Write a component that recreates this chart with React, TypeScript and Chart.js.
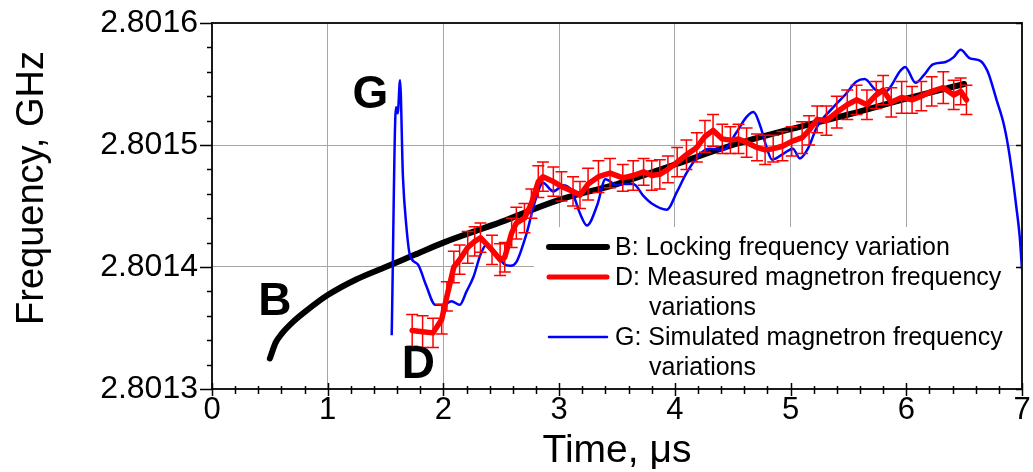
import React, { useEffect, useRef } from "react";
import { Chart, registerables } from "chart.js";

Chart.register(...registerables);

const FONT = "'Liberation Sans', Arial, Helvetica, sans-serif";

const X_TICKS = [0, 1, 2, 3, 4, 5, 6, 7];
const Y_TICKS = [2.8013, 2.8014, 2.8015, 2.8016];
const X_TITLE = "Time, \u03bcs";
const Y_TITLE = "Frequency, GHz";

// B: locking frequency variation
const B_TIME = [0.5, 0.55, 0.6, 0.7, 0.8, 1.0, 1.25, 1.5, 1.75, 2.0, 2.5, 3.0, 3.5, 4.0, 4.5, 5.0, 5.5, 6.0, 6.5];
const B_FREQ = [
  2.801325, 2.801338, 2.801345, 2.801355, 2.801363, 2.801377, 2.80139, 2.8014, 2.80141, 2.80142,
  2.801437, 2.801455, 2.801468, 2.801484, 2.8015, 2.801513, 2.801525, 2.801538, 2.80155,
];

// D: measured magnetron frequency variations (with error bars)
const D_TIME = [
  1.73, 1.82, 1.91, 1.985, 2.03, 2.09, 2.14, 2.21, 2.27, 2.32, 2.42, 2.49, 2.53, 2.59, 2.63, 2.7, 2.76,
  2.82, 2.86, 2.95, 3.02, 3.12, 3.18, 3.25, 3.34, 3.44, 3.55, 3.64, 3.73, 3.8, 3.87, 3.94, 4.02, 4.1,
  4.19, 4.26, 4.33, 4.41, 4.48, 4.55, 4.62, 4.71, 4.78, 4.85, 4.93, 5.01, 5.1, 5.16, 5.23, 5.31, 5.4,
  5.49, 5.57, 5.66, 5.74, 5.8, 5.87, 5.96, 6.05, 6.13, 6.22, 6.32, 6.41, 6.47, 6.52,
];
const D_FREQ = [
  2.801348, 2.801347, 2.801346, 2.801357, 2.801376, 2.8014, 2.801406, 2.801416, 2.801421, 2.801424,
  2.801414, 2.801406, 2.801408, 2.801428, 2.801436, 2.80144, 2.801452, 2.80147, 2.801474, 2.80147,
  2.801466, 2.801462, 2.801459, 2.801468, 2.801474, 2.801477, 2.801473, 2.801475, 2.801478, 2.801475,
  2.801476, 2.80148, 2.801486, 2.801492, 2.801498, 2.801507, 2.801512, 2.801505, 2.801504, 2.801505,
  2.801502, 2.801498, 2.801496, 2.801497, 2.801499, 2.801503, 2.801506, 2.801512, 2.801521, 2.80152,
  2.801527, 2.801533, 2.801537, 2.801533, 2.801541, 2.801545, 2.801535, 2.801539, 2.801537, 2.80154,
  2.801544, 2.801547, 2.801541, 2.801544, 2.801537,
];
const D_ERR = [
  1.3e-5, 1.3e-5, 1.2e-5, 1.2e-5, 1.2e-5, 1.3e-5, 1.2e-5, 1.3e-5, 1.2e-5, 1.2e-5, 1.2e-5, 1.3e-5,
  1.2e-5, 1.2e-5, 1.3e-5, 1.2e-5, 1.2e-5, 1.3e-5, 1.2e-5, 1.2e-5, 1.2e-5, 1.2e-5, 1.1e-5, 1.3e-5,
  1.3e-5, 1.2e-5, 1.1e-5, 1.2e-5, 1.1e-5, 1.2e-5, 1.2e-5, 1.1e-5, 1.2e-5, 1.2e-5, 1.2e-5, 1.3e-5,
  1.3e-5, 1.2e-5, 1.1e-5, 1.2e-5, 1.2e-5, 1.1e-5, 1.2e-5, 1.1e-5, 1.2e-5, 1.2e-5, 1.3e-5, 1.2e-5,
  1.1e-5, 1.2e-5, 1.3e-5, 1.2e-5, 1.2e-5, 1.2e-5, 1.1e-5, 1.2e-5, 1.2e-5, 1.3e-5, 1.1e-5, 1.2e-5,
  1.2e-5, 1.3e-5, 1.2e-5, 1.1e-5, 1.2e-5,
];

// G: simulated magnetron frequency variations
const G_TIME = [
  1.553, 1.59, 1.605, 1.625, 1.65, 1.68, 1.71, 1.78, 1.85, 1.93, 2.0, 2.07, 2.14, 2.2, 2.26, 2.32, 2.37,
  2.46, 2.53, 2.58, 2.63, 2.72, 2.78, 2.835, 2.86, 2.95, 3.04, 3.11, 3.18, 3.24, 3.33, 3.4, 3.5, 3.55,
  3.64, 3.73, 3.8, 3.93, 4.02, 4.1, 4.22, 4.3, 4.42, 4.53, 4.62, 4.68, 4.74, 4.79, 4.84, 4.94, 5.02,
  5.08, 5.15, 5.23, 5.37, 5.47, 5.57, 5.64, 5.74, 5.82, 5.95, 5.99, 6.08, 6.15, 6.23, 6.34, 6.41, 6.47,
  6.55, 6.64, 6.7, 6.72, 6.78, 6.84, 6.88, 6.91, 6.95, 6.98, 7.0,
];
const G_FREQ = [
  2.801344, 2.801531, 2.801526, 2.801553, 2.801474, 2.801433, 2.80141, 2.801402, 2.801385, 2.801369,
  2.801369, 2.801372, 2.801369, 2.80138, 2.801392, 2.80141, 2.801418, 2.801411, 2.801402, 2.801401,
  2.801404, 2.801428, 2.80145, 2.801466, 2.801469, 2.801462, 2.801467, 2.801462, 2.801444, 2.801434,
  2.801451, 2.801472, 2.801467, 2.801468, 2.801468, 2.801458, 2.801452, 2.801447, 2.801462, 2.801477,
  2.801493, 2.801497, 2.801496, 2.80151, 2.801523, 2.801527, 2.801515, 2.801499, 2.801488, 2.801493,
  2.801497, 2.801489, 2.801497, 2.801515, 2.801531, 2.801541, 2.801552, 2.801554, 2.801545, 2.801544,
  2.801561, 2.801564, 2.801551, 2.801557, 2.801566, 2.801568, 2.801572, 2.801578, 2.801571, 2.801569,
  2.801561, 2.801556, 2.801537, 2.801518, 2.801499, 2.80148, 2.80145, 2.801425, 2.801398,
];

const LEGEND_ITEMS = [
  { color: "#000000", width: 6, lines: ["B: Locking frequency variation"] },
  { color: "#ff0000", width: 5, lines: ["D: Measured magnetron frequency", "variations"] },
  { color: "#0000ff", width: 2.5, lines: ["G: Simulated magnetron frequency", "variations"] },
];

const CURVE_LABELS = [
  { text: "G", x: 1.215, y: 2.80153 },
  { text: "B", x: 0.4, y: 2.801361 },
  { text: "D", x: 1.64, y: 2.801309 },
];

const toPoints = (xs: number[], ys: number[]) => xs.map((x, i) => ({ x, y: ys[i] }));

const decorPlugin = {
  id: "decor",
  beforeDatasetsDraw(chart: any) {
    const { ctx, chartArea } = chart;
    const { left, top, right, bottom } = chartArea;
    // legend box (white, covers grid)
    const bx = left + 322;
    const by = top + 204;
    ctx.save();
    ctx.fillStyle = "#ffffff";
    ctx.fillRect(bx, by, right - bx - 1, bottom - by - 1);
    ctx.font = `25px ${FONT}`;
    ctx.textBaseline = "middle";
    ctx.fillStyle = "#000";
    let rowY = by + 20;
    LEGEND_ITEMS.forEach((item) => {
      ctx.strokeStyle = item.color;
      ctx.lineWidth = item.width;
      ctx.lineCap = "round";
      ctx.beginPath();
      ctx.moveTo(bx + 15, rowY);
      ctx.lineTo(bx + 73, rowY);
      ctx.stroke();
      item.lines.forEach((line, li) => {
        ctx.fillText(line, li === 0 ? bx + 81 : bx + 115, rowY + 1);
        rowY += 30;
      });
    });
    ctx.restore();
  },
  afterDatasetsDraw(chart: any) {
    const { ctx } = chart;
    const xs = chart.scales.x;
    const ys = chart.scales.y;
    ctx.save();
    ctx.beginPath();
    ctx.rect(chart.chartArea.left, chart.chartArea.top, chart.chartArea.width, chart.chartArea.height);
    ctx.clip();
    ctx.strokeStyle = "#ff0000";
    ctx.lineWidth = 1.5;
    D_TIME.forEach((t, i) => {
      const px = xs.getPixelForValue(t);
      const y1 = ys.getPixelForValue(D_FREQ[i] + D_ERR[i]);
      const y2 = ys.getPixelForValue(D_FREQ[i] - D_ERR[i]);
      ctx.beginPath();
      ctx.moveTo(px, y1);
      ctx.lineTo(px, y2);
      ctx.moveTo(px - 6, y1);
      ctx.lineTo(px + 6, y1);
      ctx.moveTo(px - 6, y2);
      ctx.lineTo(px + 6, y2);
      ctx.stroke();
    });
    ctx.restore();
  },
  afterDraw(chart: any) {
    const { ctx, chartArea } = chart;
    const { left, top, right, bottom } = chartArea;
    const xs = chart.scales.x;
    const ys = chart.scales.y;
    ctx.save();
    // frame
    ctx.strokeStyle = "#1a1a1a";
    ctx.lineWidth = 2;
    ctx.strokeRect(left, top, right - left, bottom - top);
    ctx.lineWidth = 1.5;
    ctx.strokeStyle = "#000";
    // y ticks (major + minor), outward
    const yMin = Y_TICKS[0];
    const yMax = Y_TICKS[Y_TICKS.length - 1];
    const yStep = (Y_TICKS[1] - Y_TICKS[0]) / 5;
    for (let k = 0; k <= Math.round((yMax - yMin) / yStep); k++) {
      const py = Math.round(ys.getPixelForValue(yMin + k * yStep)) + 0.5;
      const major = k % 5 === 0;
      ctx.beginPath();
      ctx.moveTo(left - (major ? 12 : 5), py);
      ctx.lineTo(left, py);
      if (major) {
        ctx.moveTo(right - 6, py);
        ctx.lineTo(right, py);
      }
      ctx.stroke();
    }
    // x ticks
    const xMin = X_TICKS[0];
    const xMax = X_TICKS[X_TICKS.length - 1];
    const xStep = (X_TICKS[1] - X_TICKS[0]) / 5;
    for (let k = 0; k <= Math.round((xMax - xMin) / xStep); k++) {
      const px = Math.round(xs.getPixelForValue(xMin + k * xStep)) + 0.5;
      const major = k % 5 === 0;
      ctx.beginPath();
      ctx.moveTo(px, bottom - (major ? 6 : 3));
      ctx.lineTo(px, bottom + (major ? 7 : 5));
      ctx.stroke();
    }
    // y-axis title
    ctx.fillStyle = "#000";
    ctx.font = `38px ${FONT}`;
    ctx.textAlign = "center";
    ctx.textBaseline = "middle";
    ctx.translate(33, top + 165);
    ctx.rotate(-Math.PI / 2);
    ctx.fillText(Y_TITLE, 0, 0);
    ctx.setTransform(1, 0, 0, 1, 0, 0);
    // curve labels
    ctx.textAlign = "left";
    ctx.font = `bold 46px ${FONT}`;
    ctx.textBaseline = "alphabetic";
    CURVE_LABELS.forEach((l) => {
      ctx.fillText(l.text, xs.getPixelForValue(l.x), ys.getPixelForValue(l.y));
    });
    ctx.restore();
  },
};

export default function App() {
  const ref = useRef<HTMLCanvasElement | null>(null);
  useEffect(() => {
    if (!ref.current) return;
    const chart = new Chart(ref.current, {
      type: "line",
      data: {
        datasets: [
          {
            label: "D",
            data: toPoints(D_TIME, D_FREQ),
            borderColor: "#ff0000",
            borderWidth: 5.5,
            tension: 0,
            borderJoinStyle: "round",
            borderCapStyle: "round",
          },
          {
            label: "G",
            data: toPoints(G_TIME, G_FREQ),
            borderColor: "#0000ff",
            borderWidth: 2.5,
            cubicInterpolationMode: "monotone",
            borderJoinStyle: "round",
          },
          {
            label: "B",
            data: toPoints(B_TIME, B_FREQ),
            borderColor: "#000000",
            borderWidth: 6,
            cubicInterpolationMode: "monotone",
            borderCapStyle: "round",
          },
        ],
      },
      options: {
        responsive: false,
        animation: false,
        devicePixelRatio: 1,
        layout: { padding: { top: 23, right: 11, left: 0, bottom: 0 } },
        elements: { point: { radius: 0, hoverRadius: 0 } },
        plugins: { legend: { display: false }, tooltip: { enabled: false } },
        scales: {
          x: {
            type: "linear",
            min: X_TICKS[0],
            max: X_TICKS[X_TICKS.length - 1],
            afterBuildTicks: (s: any) => {
              s.ticks = X_TICKS.map((v) => ({ value: v }));
            },
            afterFit: (s: any) => {
              s.height = 83;
              s.paddingLeft = 0;
              s.paddingRight = 0;
            },
            grid: { color: "#a6a6a6", lineWidth: 1, drawTicks: false },
            border: { display: true, color: "#000", width: 2 },
            ticks: {
              color: "#000",
              padding: 3,
              maxRotation: 0,
              font: { family: FONT, size: 31 },
              callback: (v: any) => String(v),
            },
            title: {
              display: true,
              text: X_TITLE,
              color: "#000",
              font: { family: FONT, size: 39 },
              padding: { top: 0, bottom: -3 },
            },
          },
          y: {
            type: "linear",
            min: Y_TICKS[0],
            max: Y_TICKS[Y_TICKS.length - 1],
            afterBuildTicks: (s: any) => {
              s.ticks = Y_TICKS.map((v) => ({ value: v }));
            },
            afterFit: (s: any) => {
              s.width = 212;
              s.paddingTop = 0;
              s.paddingBottom = 0;
            },
            grid: { color: "#a6a6a6", lineWidth: 1, drawTicks: false },
            border: { display: true, color: "#000", width: 2 },
            ticks: {
              color: "#000",
              padding: 14,
              font: { family: FONT, size: 32 },
              callback: (v: any) => Number(v).toFixed(4),
            },
            title: { display: false },
          },
        },
      },
      plugins: [decorPlugin],
    } as any);
    return () => chart.destroy();
  }, []);
  return (
    <div style={{ position: "fixed", left: 0, top: 0, width: 1033, height: 472, background: "#fff" }}>
      <canvas ref={ref} width={1033} height={472} style={{ display: "block" }} />
    </div>
  );
}
